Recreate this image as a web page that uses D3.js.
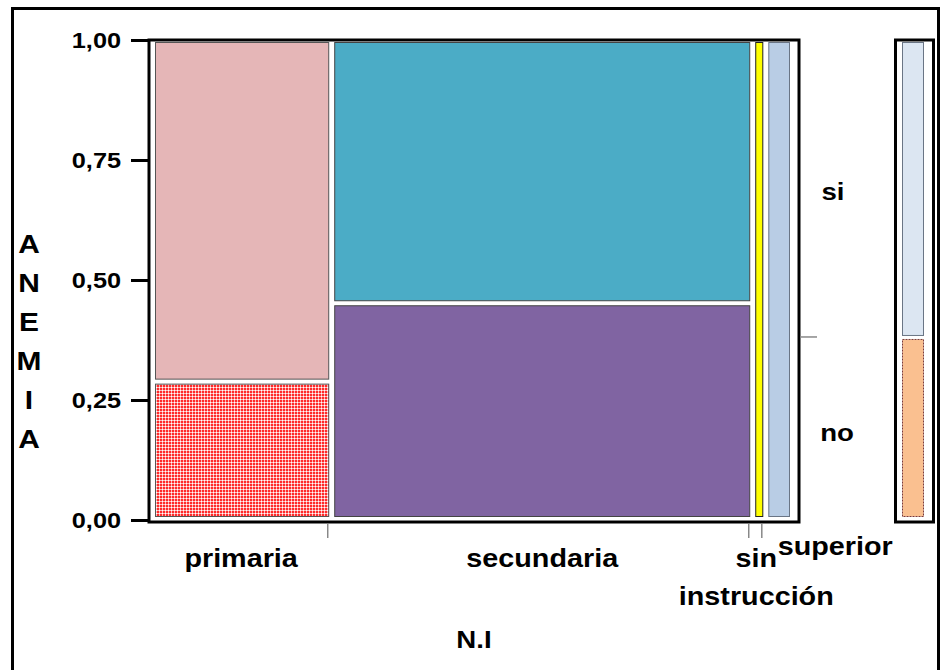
<!DOCTYPE html>
<html>
<head>
<meta charset="utf-8">
<script src="https://cdnjs.cloudflare.com/ajax/libs/d3/7.8.5/d3.min.js"></script>
<style>
body { margin: 0; background: #fff; }
text { font-family: "Liberation Sans", Arial, sans-serif; font-weight: bold; fill: #000; }
</style>
</head>
<body>
<svg id="canvas" width="941" height="670"></svg>
<script>

// data
var niveles = ['primaria', 'secundaria', 'sin instrucción', 'superior'];
var nivelShare = [0.281, 0.671, 0.013, 0.035];   // column widths
var anemiaNo = [0.285, 0.45, 0, 0];              // share of "no" inside each column
var anemiaCats = ['si', 'no'];
var anemiaTotal = [0.621, 0.379];                // marginal si / no
var yTicks = [0, 0.25, 0.5, 0.75, 1];
var yTitle = ['A', 'N', 'E', 'M', 'I', 'A'];

var colorSi = ['#E5B6B7', '#4BACC6', '#FFFF00', '#B9CDE5'];
var colorNo = ['url(#checks)', '#8064A2', '#FFFF00', '#B9CDE5'];
var strokeCol = ['#555', '#444', '#222', '#6a7585'];

var svg = d3.select('#canvas');
var stretch = 1.15;

// the reference text is a bit wider than arial, so stretch it
function label(sel, x, y, str, size, anchor) {
  return sel.append('text')
    .attr('transform', 'translate(' + x + ',' + y + ') scale(' + stretch + ',1)')
    .attr('text-anchor', anchor || 'middle')
    .style('font-size', size + 'px')
    .text(str);
}

var defs = svg.append('defs');
var pat = defs.append('pattern').attr('id', 'checks')
  .attr('width', 3).attr('height', 3).attr('patternUnits', 'userSpaceOnUse');
pat.append('rect').attr('width', 3).attr('height', 3).attr('fill', '#ff2a2a');
pat.append('rect').attr('width', 3).attr('height', 1).attr('fill', '#ffb4b4');
pat.append('rect').attr('width', 1).attr('height', 3).attr('fill', '#ffb4b4');
pat.append('rect').attr('x', 0).attr('y', 0).attr('width', 1).attr('height', 1).attr('fill', '#ffffff');

// outer frame
svg.append('rect').attr('x', 12.5).attr('y', 8.5).attr('width', 926).attr('height', 700)
  .attr('fill', 'none').attr('stroke', '#000').attr('stroke-width', 3);

// scales
var yAxisScale = d3.scaleLinear().domain([0, 1]).range([520, 40]);
var yCell = d3.scaleLinear().domain([0, 1]).range([517, 42]);
var innerLeft = 155, innerRight = 790, gap = 5;
var wScale = d3.scaleLinear().domain([0, 1]).range([0, innerRight - innerLeft - gap * (niveles.length - 1)]);

var cells = [];
var cum = 0;
niveles.forEach(function(n, i) {
  var x0 = innerLeft + wScale(cum) + i * gap;
  var w = wScale(nivelShare[i]);
  cells.push({nivel: n, x: x0, w: w, no: anemiaNo[i], idx: i});
  cum += nivelShare[i];
});

// mosaic cells
var cellG = svg.append('g');
cells.forEach(function(c) {
  var split = yCell(c.no);
  var half = c.no > 0 ? 2 : 0;
  // si on top
  cellG.append('rect')
    .attr('x', c.x + 0.5).attr('y', yCell(1) + 0.5)
    .attr('width', c.w - 1).attr('height', split - half - yCell(1) - 1)
    .attr('fill', colorSi[c.idx]).attr('stroke', strokeCol[c.idx]).attr('stroke-width', 1);
  if (c.no > 0) {
    cellG.append('rect')
      .attr('x', c.x + 0.5).attr('y', split + half + 0.5)
      .attr('width', c.w - 1).attr('height', yCell(0) - split - half - 1)
      .attr('fill', colorNo[c.idx]).attr('stroke', strokeCol[c.idx]).attr('stroke-width', 1);
  }
});

// plot frame
svg.append('rect').attr('x', 149).attr('y', 40).attr('width', 650).attr('height', 482)
  .attr('fill', 'none').attr('stroke', '#000').attr('stroke-width', 3);

// y axis
var fmt = function(d) { return d3.format('.2f')(d).replace('.', ','); };
var yAxis = d3.axisLeft(yAxisScale).tickValues(yTicks).tickSize(17).tickPadding(10).tickFormat(fmt);
var yG = svg.append('g').attr('transform', 'translate(148,0)').call(yAxis);
yG.select('.domain').remove();
yG.selectAll('line').attr('stroke', '#000').attr('stroke-width', 3);
yG.selectAll('text')
  .attr('x', null).attr('dy', null)
  .attr('transform', 'translate(-27,7) scale(' + stretch + ',1)')
  .style('font-size', '22px').style('font-family', '"Liberation Sans", Arial, sans-serif')
  .style('font-weight', 'bold').attr('fill', '#000');

// y title, one letter per line
yTitle.forEach(function(ch, i) {
  label(svg, 29, 253 + i * 39, ch, 26);
});

// x ticks at column boundaries
svg.selectAll('.xtick')
  .data(cells.slice(0, cells.length - 1))
  .enter()
  .append('line')
  .attr('class', 'xtick')
  .attr('x1', function(d) { return d.x + d.w - 1.5; })
  .attr('x2', function(d) { return d.x + d.w - 1.5; })
  .attr('y1', 524).attr('y2', 538)
  .attr('stroke', '#888').attr('stroke-width', 1.5);

// x labels (superior nudged right/up so it does not clash)
var nudge = [[-1, 0], [0, 0], [-3, 0], [56, -12]];
cells.forEach(function(c, i) {
  var cx = c.x + c.w / 2 + nudge[i][0];
  var parts = c.nivel.split(' ');
  parts.forEach(function(p, j) {
    label(svg, cx, 567 + nudge[i][1] + j * 38, p, 25);
  });
});

label(svg, 474, 648, 'N.I', 24);

// marginal bar on the right
var margX = 902, margW = 21;
var margSplit = yCell(anemiaTotal[1]);
svg.append('rect').attr('x', margX + 0.5).attr('y', yCell(1) + 0.5)
  .attr('width', margW).attr('height', margSplit - 2 - yCell(1))
  .attr('fill', '#DCE6F2').attr('stroke', '#6a7585').attr('stroke-width', 1);
svg.append('rect').attr('x', margX + 0.5).attr('y', margSplit + 2.5)
  .attr('width', margW).attr('height', yCell(0) - margSplit - 3)
  .attr('fill', '#FAC090').attr('stroke', '#7a3a3a').attr('stroke-width', 1)
  .attr('stroke-dasharray', '2,1');
svg.append('rect').attr('x', 895.5).attr('y', 40).attr('width', 38).attr('height', 482)
  .attr('fill', 'none').attr('stroke', '#000').attr('stroke-width', 3);

// split marker + category labels between plot and marginal bar
svg.append('line').attr('x1', 800).attr('x2', 817)
  .attr('y1', margSplit).attr('y2', margSplit)
  .attr('stroke', '#888').attr('stroke-width', 1.5);
label(svg, 833, 200, anemiaCats[0], 24);
label(svg, 837, 441, anemiaCats[1], 24);

</script>
</body>
</html>
